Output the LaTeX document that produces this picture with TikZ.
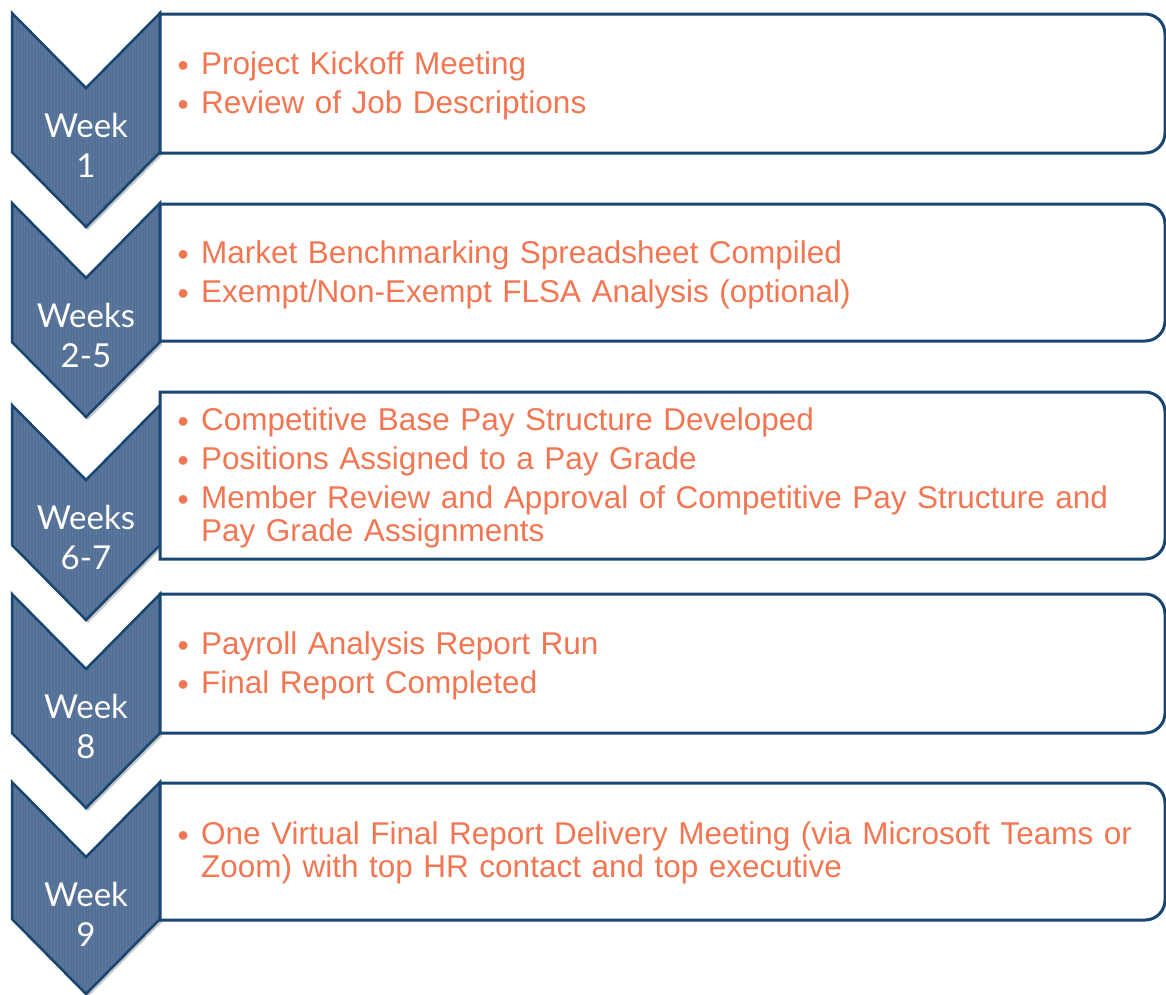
\documentclass[tikz,border=0pt]{standalone}
\usepackage{fontspec}
\setmainfont{Liberation Sans}
\newfontfamily\weekfont{Lato}
\definecolor{navy}{RGB}{24,70,112}
\definecolor{chev}{RGB}{84,112,150}
\definecolor{chevlight}{RGB}{120,146,180}
\definecolor{orng}{RGB}{243,118,82}
\tikzset{
  boxline/.style={draw=navy, line width=3pt, fill=white},
  chevline/.style={draw=navy, line width=2.5pt, line join=miter},
  chevshadow/.style={fill=black, opacity=0.22},
  stripe/.style={draw=chevlight, line width=0.9pt, opacity=0.25},
  weeklabel/.style={text=white, font=\weekfont\fontsize{33}{40}\selectfont, align=center, inner sep=0pt},
  items/.style={text=orng, anchor=west, text width=990pt, inner sep=0pt,
    font=\fontsize{31.5}{33}\selectfont\setlength{\parskip}{6pt}\raggedright},
}
\newcommand\itm[1]{\par\hangindent=24pt\hangafter=1\noindent\makebox[24pt][l]{\hspace{0.5pt}\fontsize{32}{32}\selectfont\raisebox{-2pt}{•}}#1\par}
\begin{document}
\begin{tikzpicture}[x=1pt,y=-1pt]
\useasboundingbox (0,0) rectangle (1166,994);
% chevrons
\foreach \T/\B in {13/152, 203/342, 405/545, 594/733, 782/919} {
  \fill[chevshadow] (14,\T+3) -- (88,\T+78) -- (162,\T+3) -- (162,\B+3) -- (88,\B+78) -- (14,\B+3) -- cycle;
  \begin{scope}
    \clip (12,\T) -- (86,\T+75) -- (160,\T) -- (160,\B) -- (86,\B+75) -- (12,\B) -- cycle;
    \fill[chev] (0,\T) rectangle (170,\B+80);
    \foreach \x in {12,15,...,160} \draw[stripe] (\x,\T) -- (\x,\B+80);
  \end{scope}
  \draw[chevline] (12,\T) -- (86,\T+75) -- (160,\T) -- (160,\B) -- (86,\B+75) -- (12,\B) -- cycle;
}
% boxes
\foreach \t/\b in {14/153, 204/341, 392/559, 594/733, 783/920} {
  \draw[boxline] (160,\t) [rounded corners=20pt] -- (1165,\t) -- (1165,\b) [sharp corners] -- (160,\b) -- cycle;
}
% week labels
\node[weeklabel] (w1) at (86,13+132) {Week\\1};
\node[weeklabel] (w2) at (86,203+132) {Weeks\\2-5};
\node[weeklabel] (w3) at (86,405+132) {Weeks\\6-7};
\node[weeklabel] (w4) at (86,594+132) {Week\\8};
\node[weeklabel] (w5) at (86,782+132) {Week\\9};
% items
\node[items] (t1) at (177,77.5) {\itm{Project Kickoff Meeting}\itm{Review of Job Descriptions}};
\node[items] (t2) at (177,266.5) {\itm{Market Benchmarking Spreadsheet Compiled}\itm{Exempt/Non-Exempt FLSA Analysis (optional)}};
\node[items] (t3) at (177,469.5) {\itm{Competitive Base Pay Structure Developed}\itm{Positions Assigned to a Pay Grade}\itm{Member Review and Approval of Competitive Pay Structure and\newline Pay Grade Assignments}};
\node[items] (t4) at (177,657.5) {\itm{Payroll Analysis Report Run}\itm{Final Report Completed}};
\node[items] (t5) at (177,844.5) {\itm{One Virtual Final Report Delivery Meeting (via Microsoft Teams or\newline Zoom) with top HR contact and top executive}};
\end{tikzpicture}
\end{document}
